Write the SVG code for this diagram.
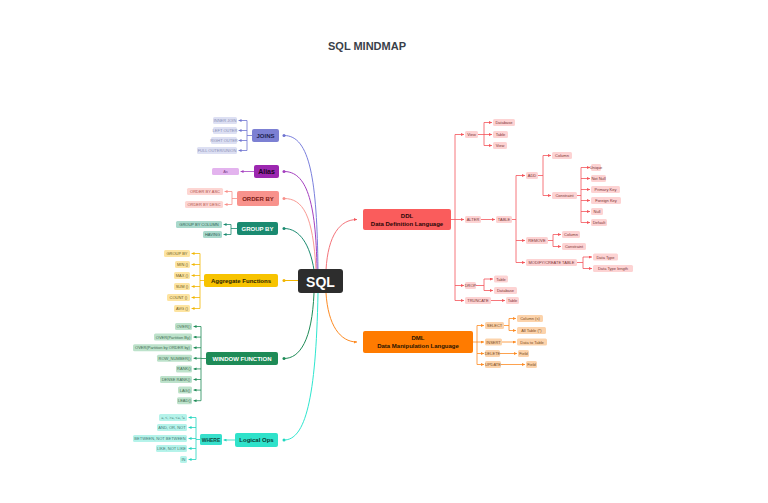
<svg xmlns="http://www.w3.org/2000/svg" width="768" height="503" viewBox="0 0 768 503">
<style>
text{font-family:"Liberation Sans",Arial,sans-serif;text-anchor:middle;dominant-baseline:central}
.t{font-size:4px;fill:#555}
.n{font-size:6px;font-weight:bold;fill:#222}
.w{fill:#fff}
.c{fill:none;stroke-width:1}
.b{fill:none;stroke-width:0.8}
</style>
<defs>
<marker id="aBlue" markerUnits="userSpaceOnUse" markerWidth="3" markerHeight="3" refX="3" refY="1.5" orient="auto"><path d="M0,0L3,1.5L0,3z" fill="#6f74d0"/></marker>
<marker id="aPur" markerUnits="userSpaceOnUse" markerWidth="3" markerHeight="3" refX="3" refY="1.5" orient="auto"><path d="M0,0L3,1.5L0,3z" fill="#a43fbf"/></marker>
<marker id="aPink" markerUnits="userSpaceOnUse" markerWidth="3" markerHeight="3" refX="3" refY="1.5" orient="auto"><path d="M0,0L3,1.5L0,3z" fill="#f88f89"/></marker>
<marker id="aTeal" markerUnits="userSpaceOnUse" markerWidth="3" markerHeight="3" refX="3" refY="1.5" orient="auto"><path d="M0,0L3,1.5L0,3z" fill="#1a8a70"/></marker>
<marker id="aYel" markerUnits="userSpaceOnUse" markerWidth="3" markerHeight="3" refX="3" refY="1.5" orient="auto"><path d="M0,0L3,1.5L0,3z" fill="#f2b600"/></marker>
<marker id="aGrn" markerUnits="userSpaceOnUse" markerWidth="3" markerHeight="3" refX="3" refY="1.5" orient="auto"><path d="M0,0L3,1.5L0,3z" fill="#1e8b57"/></marker>
<marker id="aCyan" markerUnits="userSpaceOnUse" markerWidth="3" markerHeight="3" refX="3" refY="1.5" orient="auto"><path d="M0,0L3,1.5L0,3z" fill="#22d6bf"/></marker>
<marker id="aRed" markerUnits="userSpaceOnUse" markerWidth="3" markerHeight="3" refX="3" refY="1.5" orient="auto"><path d="M0,0L3,1.5L0,3z" fill="#f4545a"/></marker>
<marker id="aOra" markerUnits="userSpaceOnUse" markerWidth="3" markerHeight="3" refX="3" refY="1.5" orient="auto"><path d="M0,0L3,1.5L0,3z" fill="#fd8a22"/></marker>
</defs>
<rect width="768" height="503" fill="#fff"/>
<text x="367" y="46" style="font-size:11px;font-weight:bold;fill:#3a3f4a">SQL MINDMAP</text>

<g id="connectors">
<!-- main curves -->
<path class="c" stroke="#7b80dd" d="M284,135.5C310,135.5 317,180 318,270"/>
<path class="c" stroke="#a43fbf" d="M284,171.5C306,171.5 316,200 317,270"/>
<path class="c" stroke="#f99b95" d="M284,198.5C303,198.5 313,215 316,270"/>
<path class="c" stroke="#1a8a70" d="M284,228.5C300,228.5 310,245 314,270"/>
<path class="c" stroke="#f2b600" d="M284,280.5H298"/>
<path class="c" stroke="#1e8b57" d="M314,293C312,340 300,358.5 284,358.5"/>
<path class="c" stroke="#2ee6cf" d="M318,293C316,400 305,440 284,440"/>
<path class="c" stroke="#f4737a" d="M326,270C328,235 340,219.5 357,219.5" marker-end="url(#aRed)"/>
<path class="c" stroke="#fd8a22" d="M326,293C328,325 340,342 357,342" marker-end="url(#aOra)"/>
<!-- JOINS -->
<g stroke="#6f74d0" class="b">
<path d="M252,135.5H247M247,120.5V150.5"/>
<path d="M247,120.5H238.5" marker-end="url(#aBlue)"/>
<path d="M247,130.5H238.5" marker-end="url(#aBlue)"/>
<path d="M247,140.5H238.5" marker-end="url(#aBlue)"/>
<path d="M247,150.5H238.5" marker-end="url(#aBlue)"/>
</g>
<path class="b" stroke="#a43fbf" d="M254,171.5H240.5" marker-end="url(#aPur)"/>
<g stroke="#f88f89" class="b">
<path d="M237,198.5H232M232,191.5V204.5"/>
<path d="M232,191.5H224.5" marker-end="url(#aPink)"/>
<path d="M232,204.5H224.5" marker-end="url(#aPink)"/>
</g>
<g stroke="#1a8a70" class="b">
<path d="M237,228.5H231M231,224.5V234.5"/>
<path d="M231,224.5H223.5" marker-end="url(#aTeal)"/>
<path d="M231,234.5H223.5" marker-end="url(#aTeal)"/>
</g>
<g stroke="#f2b600" class="b">
<path d="M204,280.5H200M200,253.5V308.5"/>
<path d="M200,253.5H191.5" marker-end="url(#aYel)"/>
<path d="M200,264.5H191.5" marker-end="url(#aYel)"/>
<path d="M200,275.5H191.5" marker-end="url(#aYel)"/>
<path d="M200,286.5H191.5" marker-end="url(#aYel)"/>
<path d="M200,297.5H191.5" marker-end="url(#aYel)"/>
<path d="M200,308.5H191.5" marker-end="url(#aYel)"/>
</g>
<g stroke="#1e8b57" class="b">
<path d="M206,358.5H201M201,326.5V400.7"/>
<path d="M201,326.5H193.5" marker-end="url(#aGrn)"/>
<path d="M201,337.1H193.5" marker-end="url(#aGrn)"/>
<path d="M201,347.7H193.5" marker-end="url(#aGrn)"/>
<path d="M201,358.3H193.5" marker-end="url(#aGrn)"/>
<path d="M201,368.9H193.5" marker-end="url(#aGrn)"/>
<path d="M201,379.5H193.5" marker-end="url(#aGrn)"/>
<path d="M201,390.1H193.5" marker-end="url(#aGrn)"/>
<path d="M201,400.7H193.5" marker-end="url(#aGrn)"/>
</g>
<g stroke="#22d6bf" class="b">
<path d="M235,440H223.5" marker-end="url(#aCyan)"/>
<path d="M200,439.5H196M196,417.5V459.5"/>
<path d="M196,417.5H188.5" marker-end="url(#aCyan)"/>
<path d="M196,427.5H188.5" marker-end="url(#aCyan)"/>
<path d="M196,438.5H188.5" marker-end="url(#aCyan)"/>
<path d="M196,448.5H188.5" marker-end="url(#aCyan)"/>
<path d="M196,459.5H188.5" marker-end="url(#aCyan)"/>
</g>
<!-- DDL -->
<g stroke="#f4545a" class="b">
<path d="M451,219.5H455M455,134.5V300.5"/>
<path d="M455,134.5H464" marker-end="url(#aRed)"/>
<path d="M455,219.5H464" marker-end="url(#aRed)"/>
<path d="M455,285.5H464" marker-end="url(#aRed)"/>
<path d="M455,300.5H464" marker-end="url(#aRed)"/>
<path d="M478,134.5H484M484,122.5V145.5"/>
<path d="M484,122.5H492" marker-end="url(#aRed)"/>
<path d="M484,134.5H492" marker-end="url(#aRed)"/>
<path d="M484,145.5H492" marker-end="url(#aRed)"/>
<path d="M481,219.5H495" marker-end="url(#aRed)"/>
<path d="M512,219.5H516M516,175.5V262.5"/>
<path d="M516,175.5H525" marker-end="url(#aRed)"/>
<path d="M516,240.5H525" marker-end="url(#aRed)"/>
<path d="M516,262.5H525" marker-end="url(#aRed)"/>
<path d="M538,175.5H543M543,155.5V195.5"/>
<path d="M543,155.5H551" marker-end="url(#aRed)"/>
<path d="M543,195.5H551" marker-end="url(#aRed)"/>
<path d="M577,195.5H581M581,167.5V222.5"/>
<path d="M581,167.5H590" marker-end="url(#aRed)"/>
<path d="M581,178.5H590" marker-end="url(#aRed)"/>
<path d="M581,189.5H590" marker-end="url(#aRed)"/>
<path d="M581,200.5H590" marker-end="url(#aRed)"/>
<path d="M581,211.5H590" marker-end="url(#aRed)"/>
<path d="M581,222.5H590" marker-end="url(#aRed)"/>
<path d="M548,240.5H553M553,234.5V246.5"/>
<path d="M553,234.5H561" marker-end="url(#aRed)"/>
<path d="M553,246.5H561" marker-end="url(#aRed)"/>
<path d="M577,262.5H583M583,257V268.5"/>
<path d="M583,257H592" marker-end="url(#aRed)"/>
<path d="M583,268.5H592" marker-end="url(#aRed)"/>
<path d="M476,285.5H484M484,279V290.5"/>
<path d="M484,279H493" marker-end="url(#aRed)"/>
<path d="M484,290.5H493" marker-end="url(#aRed)"/>
<path d="M491,300.5H505" marker-end="url(#aRed)"/>
</g>
<!-- DML -->
<g stroke="#fd8a22" class="b">
<path d="M473,342H477M477,325.5V364.5"/>
<path d="M477,325.5H484" marker-end="url(#aOra)"/>
<path d="M477,342H484" marker-end="url(#aOra)"/>
<path d="M477,353.5H484" marker-end="url(#aOra)"/>
<path d="M477,364.5H484" marker-end="url(#aOra)"/>
<path d="M504,325.5H509M509,318.5V330.5"/>
<path d="M509,318.5H516" marker-end="url(#aOra)"/>
<path d="M509,330.5H516" marker-end="url(#aOra)"/>
<path d="M502,342H516" marker-end="url(#aOra)"/>
<path d="M500,353.5H517" marker-end="url(#aOra)"/>
<path d="M501,364.5H525" marker-end="url(#aOra)"/>
</g>
<!-- dots -->
<circle cx="284" cy="135.5" r="1.5" fill="#6f74d0"/>
<circle cx="284" cy="171.5" r="1.5" fill="#a43fbf"/>
<circle cx="284" cy="198.5" r="1.5" fill="#f88f89"/>
<circle cx="284" cy="228.5" r="1.5" fill="#1a8a70"/>
<circle cx="284" cy="280.5" r="1.5" fill="#f2b600"/>
<circle cx="284" cy="358.5" r="1.5" fill="#1e8b57"/>
<circle cx="284" cy="440" r="1.5" fill="#22d6bf"/>
</g>

<g id="sql"><rect x="298" y="269" width="45" height="24" rx="3" fill="#2d2d2d"/><text x="320.5" y="281.5" style="font-size:14px;font-weight:bold;fill:#fff">SQL</text></g>

<g id="joins">
<rect x="252" y="129" width="27" height="13" rx="2" fill="#7c80d3"/><text class="n" x="265.5" y="135.5" style="fill:#1e2350">JOINS</text>
<g fill="#dde0f3"><rect x="213" y="117" width="24" height="7" rx="1.5"/><rect x="213" y="127" width="24" height="7" rx="1.5"/><rect x="211" y="137" width="26" height="7" rx="1.5"/><rect x="197" y="147" width="40" height="7" rx="1.5"/></g>
<text class="t" x="225" y="120.5" style="fill:#8a8fb5">INNER JOIN</text><text class="t" x="225" y="130.5" style="fill:#8a8fb5">LEFT OUTER</text><text class="t" x="224" y="140.5" style="fill:#8a8fb5">RIGHT OUTER</text><text class="t" x="217" y="150.5" style="fill:#8a8fb5">FULL OUTER/UNION</text>
</g>
<g id="alias">
<rect x="254" y="165" width="25" height="13" rx="2" fill="#9c27b0"/><text class="n" x="266.5" y="171.5" style="font-size:7px;fill:#1a0520">Alias</text>
<rect x="212" y="168" width="27" height="7" rx="1.5" fill="#e3b3ee"/><text class="t" x="225.5" y="171.5" style="fill:#7a3f86">As</text>
</g>
<g id="orderby">
<rect x="237" y="191" width="42" height="15" rx="2" fill="#f8928c"/><text class="n" x="258" y="198.5" style="fill:#7a1a14">ORDER BY</text>
<g fill="#fdd6d3"><rect x="187" y="188" width="36" height="7" rx="1.5"/><rect x="185" y="201" width="38" height="7" rx="1.5"/></g>
<text class="t" x="205" y="191.5" style="fill:#b0524c">ORDER BY ASC</text><text class="t" x="204" y="204.5" style="fill:#b0524c">ORDER BY DESC</text>
</g>
<g id="groupby">
<rect x="237" y="222" width="41" height="13" rx="2" fill="#1a8a70"/><text class="n w" x="257.5" y="228.5">GROUP BY</text>
<g fill="#a9d9cc"><rect x="176" y="221" width="46" height="7" rx="1.5"/><rect x="203" y="231" width="19" height="7" rx="1.5"/></g>
<text class="t" x="199" y="224.5" style="fill:#2c5f52">GROUP BY COLUMN</text><text class="t" x="212.5" y="234.5" style="fill:#2c5f52">HAVING</text>
</g>
<g id="aggregate">
<rect x="204" y="274" width="74" height="13" rx="2" fill="#f7c300"/><text class="n" x="241" y="280.5" style="fill:#2a2200">Aggregate Functions</text>
<g fill="#fde4a1"><rect x="164" y="250" width="26" height="7" rx="1.5"/><rect x="175" y="261" width="15" height="7" rx="1.5"/><rect x="174" y="272" width="16" height="7" rx="1.5"/><rect x="174" y="283" width="16" height="7" rx="1.5"/><rect x="167" y="294" width="23" height="7" rx="1.5"/><rect x="174" y="305" width="16" height="7" rx="1.5"/></g>
<g style="fill:#6d5a1c"><text class="t" x="177" y="253.5" style="fill:#6d5a1c">GROUP BY</text><text class="t" x="182.5" y="264.5" style="fill:#6d5a1c">MIN ()</text><text class="t" x="182" y="275.5" style="fill:#6d5a1c">MAX ()</text><text class="t" x="182" y="286.5" style="fill:#6d5a1c">SUM ()</text><text class="t" x="178.5" y="297.5" style="fill:#6d5a1c">COUNT ()</text><text class="t" x="182" y="308.5" style="fill:#6d5a1c">AVG ()</text></g>
</g>
<g id="window">
<rect x="206" y="352" width="72" height="13" rx="2" fill="#1e8b57"/><text class="n w" x="242" y="358.5">WINDOW FUNCTION</text>
<g fill="#bde2cb"><rect x="175" y="323" width="17" height="7" rx="1.5"/><rect x="154" y="333.6" width="38" height="7" rx="1.5"/><rect x="133" y="344.2" width="59" height="7" rx="1.5"/><rect x="157" y="354.8" width="35" height="7" rx="1.5"/><rect x="176" y="365.4" width="16" height="7" rx="1.5"/><rect x="160" y="376" width="32" height="7" rx="1.5"/><rect x="178" y="386.6" width="14" height="7" rx="1.5"/><rect x="177" y="397.2" width="15" height="7" rx="1.5"/></g>
<text class="t" x="183.5" y="326.5" style="fill:#3d6b50">OVER()</text><text class="t" x="173" y="337.1" style="fill:#3d6b50">OVER(Partition By)</text><text class="t" x="162.5" y="347.7" style="fill:#3d6b50">OVER(Partition by ORDER by)</text><text class="t" x="174.5" y="358.3" style="fill:#3d6b50">ROW_NUMBER()</text><text class="t" x="184" y="368.9" style="fill:#3d6b50">RANK()</text><text class="t" x="176" y="379.5" style="fill:#3d6b50">DENSE RANK()</text><text class="t" x="185" y="390.1" style="fill:#3d6b50">LAG()</text><text class="t" x="184.5" y="400.7" style="fill:#3d6b50">LEAD()</text>
</g>
<g id="logical">
<rect x="235" y="433" width="43" height="14" rx="2" fill="#2fe2ca"/><text class="n" x="256.5" y="440" style="fill:#0b3b35">Logical Ops</text>
</g>
<g id="where">
<rect x="200" y="434" width="22" height="11" rx="1.5" fill="#38e0cc"/><text class="n" x="211" y="439.5" style="font-size:5px;fill:#0d4a43">WHERE</text>
<g fill="#b5f3ea"><rect x="159" y="414" width="28" height="7" rx="1.5"/><rect x="157" y="424" width="30" height="7" rx="1.5"/><rect x="133" y="435" width="54" height="7" rx="1.5"/><rect x="156" y="445" width="31" height="7" rx="1.5"/><rect x="180" y="456" width="7" height="7" rx="1.5"/></g>
<text class="t" x="173" y="417.5" style="fill:#3f7a72;font-size:3.6px">=, &lt;, &gt;=, &lt;=, !=</text><text class="t" x="172" y="427.5" style="fill:#3f7a72">AND, OR, NOT</text><text class="t" x="160" y="438.5" style="fill:#3f7a72">BETWEEN, NOT BETWEEN</text><text class="t" x="171.5" y="448.5" style="fill:#3f7a72">LIKE, NOT LIKE</text><text class="t" x="183.5" y="459.5" style="fill:#3f7a72">IN</text>
</g>

<g id="ddl">
<rect x="363" y="209" width="88" height="21" rx="2" fill="#fa5c5c"/><text class="n" x="407" y="215.5" style="fill:#2a0606">DDL</text><text class="n" x="407" y="223.5" style="fill:#2a0606">Data Definition Language</text>
</g>
<g id="ddl-items" fill="#fdd3d3">
<rect x="465" y="131" width="13" height="7" rx="1.5"/><rect x="465" y="216" width="16" height="7" rx="1.5"/><rect x="465" y="282" width="11" height="7" rx="1.5"/><rect x="465" y="297" width="26" height="7" rx="1.5"/>
<rect x="493" y="119" width="22" height="7" rx="1.5"/><rect x="493" y="131" width="15" height="7" rx="1.5"/><rect x="493" y="142" width="14" height="7" rx="1.5"/>
<rect x="496" y="216" width="16" height="7" rx="1.5"/>
<rect x="526" y="172" width="12" height="7" rx="1.5"/><rect x="526" y="237" width="22" height="7" rx="1.5"/><rect x="526" y="259" width="51" height="7" rx="1.5"/>
<rect x="552" y="152" width="20" height="7" rx="1.5"/><rect x="552" y="192" width="25" height="7" rx="1.5"/>
<rect x="591" y="164" width="10" height="7" rx="1.5"/><rect x="591" y="175" width="15" height="7" rx="1.5"/><rect x="591" y="186" width="29" height="7" rx="1.5"/><rect x="591" y="197" width="30" height="7" rx="1.5"/><rect x="591" y="208" width="12" height="7" rx="1.5"/><rect x="591" y="219" width="16" height="7" rx="1.5"/>
<rect x="562" y="231" width="18" height="7" rx="1.5"/><rect x="562" y="243" width="24" height="7" rx="1.5"/>
<rect x="593" y="253.5" width="25" height="7" rx="1.5"/><rect x="593" y="265" width="40" height="7" rx="1.5"/>
<rect x="494" y="275.5" width="14" height="7" rx="1.5"/><rect x="494" y="287" width="23" height="7" rx="1.5"/>
<rect x="506" y="297" width="13" height="7" rx="1.5"/>
<g style="fill:#7a3434">
<text class="t" x="471.5" y="134.5" style="fill:#7a3434">View</text><text class="t" x="473" y="219.5" style="fill:#7a3434">ALTER</text><text class="t" x="470.5" y="285.5" style="fill:#7a3434">DROP</text><text class="t" x="478" y="300.5" style="fill:#7a3434">TRUNCATE</text>
<text class="t" x="504" y="122.5" style="fill:#7a3434">Database</text><text class="t" x="500.5" y="134.5" style="fill:#7a3434">Table</text><text class="t" x="500" y="145.5" style="fill:#7a3434">View</text>
<text class="t" x="504" y="219.5" style="fill:#7a3434">TABLE</text>
<text class="t" x="532" y="175.5" style="fill:#7a3434">ADD</text><text class="t" x="537" y="240.5" style="fill:#7a3434">REMOVE</text><text class="t" x="551.5" y="262.5" style="fill:#7a3434">MODIFY/CREATE TABLE</text>
<text class="t" x="562" y="155.5" style="fill:#7a3434">Column</text><text class="t" x="564.5" y="195.5" style="fill:#7a3434">Constraint</text>
<text class="t" x="596" y="167.5" style="fill:#7a3434">Unique</text><text class="t" x="598.5" y="178.5" style="fill:#7a3434">Not Null</text><text class="t" x="605.5" y="189.5" style="fill:#7a3434">Primary Key</text><text class="t" x="606" y="200.5" style="fill:#7a3434">Foreign Key</text><text class="t" x="597" y="211.5" style="fill:#7a3434">Null</text><text class="t" x="599" y="222.5" style="fill:#7a3434">Default</text>
<text class="t" x="571" y="234.5" style="fill:#7a3434">Column</text><text class="t" x="574" y="246.5" style="fill:#7a3434">Constraint</text>
<text class="t" x="605.5" y="257" style="fill:#7a3434">Data Type</text><text class="t" x="613" y="268.5" style="fill:#7a3434">Data Type length</text>
<text class="t" x="501" y="279" style="fill:#7a3434">Table</text><text class="t" x="505.5" y="290.5" style="fill:#7a3434">Database</text>
<text class="t" x="512.5" y="300.5" style="fill:#7a3434">Table</text>
</g>
</g>

<g id="dml">
<rect x="363" y="331" width="110" height="22" rx="2" fill="#ff7b00"/><text class="n" x="418" y="338" style="fill:#2a1400">DML</text><text class="n" x="418" y="346" style="fill:#2a1400">Data Manipulation Language</text>
</g>
<g id="dml-items" fill="#fcd3ab">
<rect x="485" y="322" width="19" height="7" rx="1.5"/><rect x="485" y="338.5" width="17" height="7" rx="1.5"/><rect x="485" y="350" width="15" height="7" rx="1.5"/><rect x="485" y="361" width="16" height="7" rx="1.5"/>
<rect x="517" y="315" width="26" height="7" rx="1.5"/><rect x="517" y="327" width="29" height="7" rx="1.5"/><rect x="517" y="338.5" width="30" height="7" rx="1.5"/><rect x="518" y="350" width="11" height="7" rx="1.5"/><rect x="526" y="361" width="11" height="7" rx="1.5"/>
<text class="t" x="494.5" y="325.5" style="fill:#7a4a1c">SELECT</text><text class="t" x="493.5" y="342" style="fill:#7a4a1c">INSERT</text><text class="t" x="492.5" y="353.5" style="fill:#7a4a1c">DELETE</text><text class="t" x="493" y="364.5" style="fill:#7a4a1c">UPDATE</text>
<text class="t" x="530" y="318.5" style="fill:#7a4a1c">Column (s)</text><text class="t" x="531.5" y="330.5" style="fill:#7a4a1c">All Table (*)</text><text class="t" x="532" y="342" style="fill:#7a4a1c">Data to Table</text><text class="t" x="523.5" y="353.5" style="fill:#7a4a1c">Field</text><text class="t" x="531.5" y="364.5" style="fill:#7a4a1c">Field</text>
</g>
</svg>
